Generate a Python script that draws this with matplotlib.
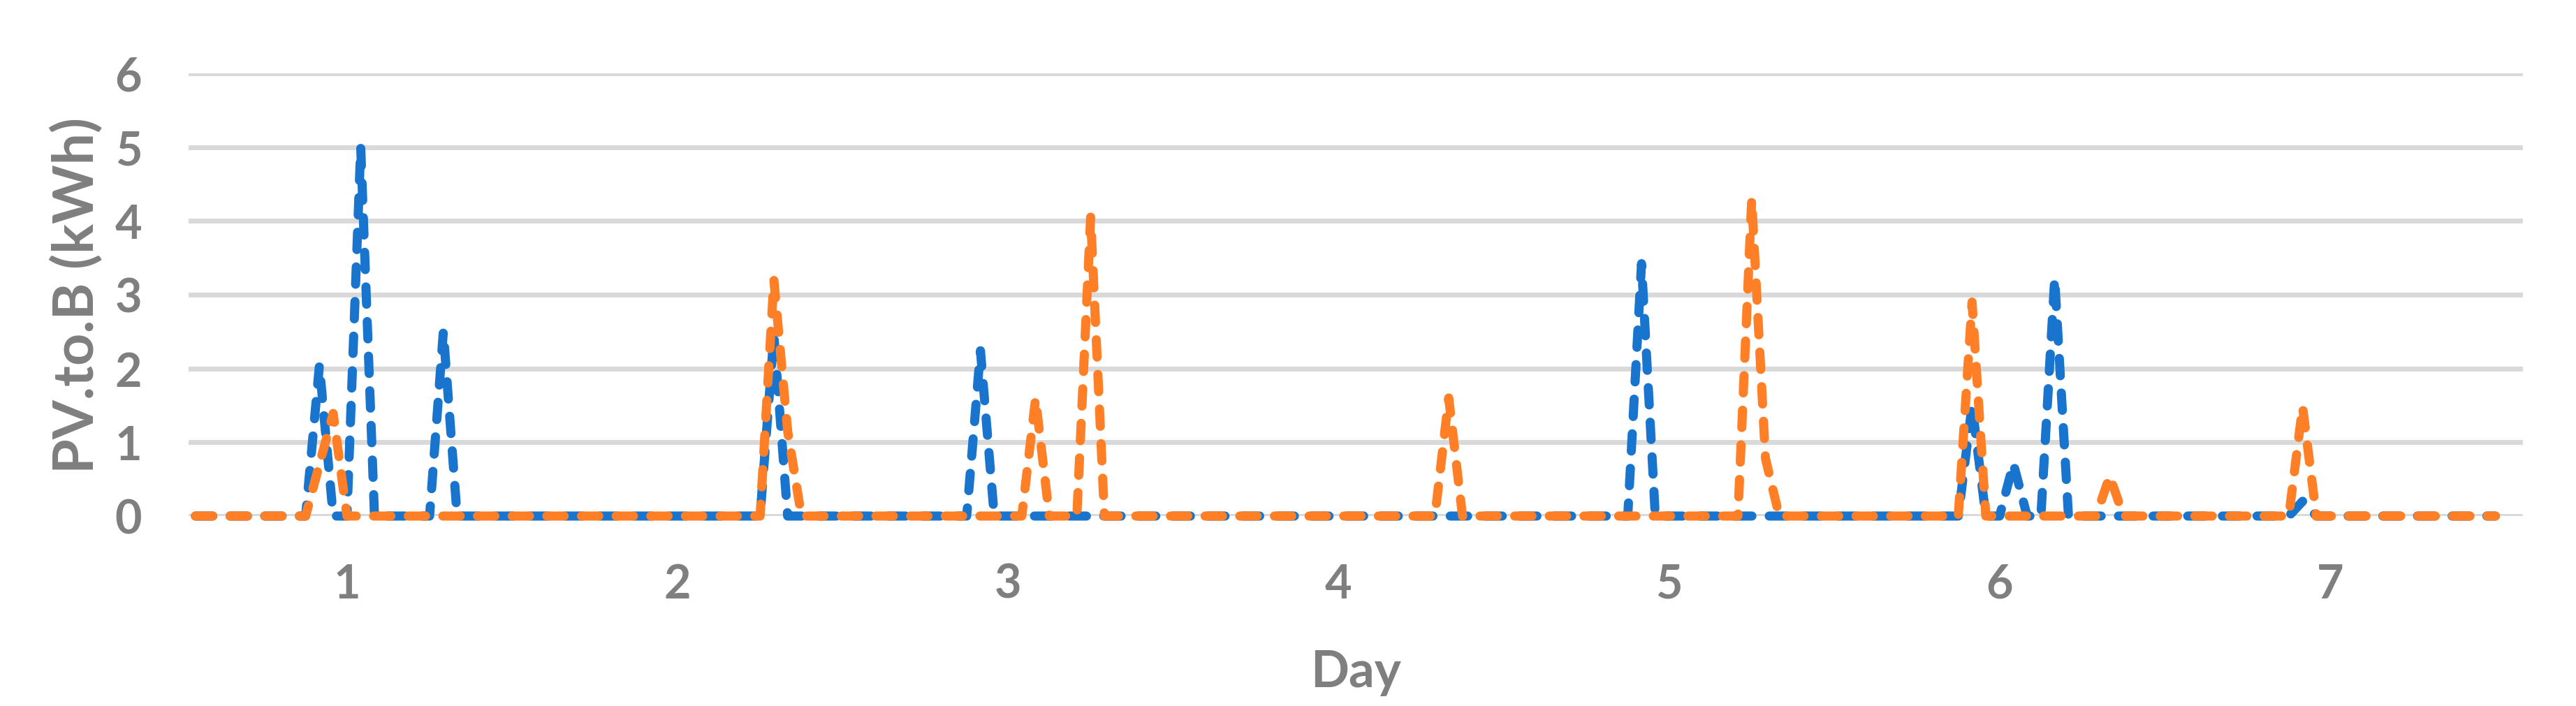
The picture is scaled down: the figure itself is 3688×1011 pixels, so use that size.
import numpy as np
import matplotlib
matplotlib.use('Agg')
import matplotlib.pyplot as plt

# hourly PV.to.B values (kWh), one list of 24 hours per day
blue_days = [
    [0, 0, 0, 0, 0, 0, 0, 0, 0, 2.04, 0, 0, 5.0, 0, 0, 0, 0, 0, 2.5, 0, 0, 0, 0, 0],
    [0, 0, 0, 0, 0, 0, 0, 0, 0, 0, 0, 0, 0, 0, 0, 0, 0, 0, 2.45, 0, 0, 0, 0, 0],
    [0, 0, 0, 0, 0, 0, 0, 0, 0, 2.24, 0, 0, 0, 0, 0, 0, 0, 0, 0, 0, 0, 0, 0, 0],
    [0, 0, 0, 0, 0, 0, 0, 0, 0, 0, 0, 0, 0, 0, 0, 0, 0, 0, 0, 0, 0, 0, 0, 0],
    [0, 0, 0, 0, 0, 0, 0, 0, 0, 3.42, 0, 0, 0, 0, 0, 0, 0, 0, 0, 0, 0, 0, 0, 0],
    [0, 0, 0, 0, 0, 0, 0, 0, 0, 1.5, 0, 0, 0.71, 0, 0, 3.22, 0, 0, 0, 0, 0, 0, 0, 0],
    [0, 0, 0, 0, 0, 0, 0, 0, 0, 0.2, 0, 0, 0, 0, 0, 0, 0, 0, 0, 0, 0, 0, 0, 0],
]
orange_days = [
    [0, 0, 0, 0, 0, 0, 0, 0, 0, 0.7, 1.39, 0, 0, 0, 0, 0, 0, 0, 0, 0, 0, 0, 0, 0],
    [0, 0, 0, 0, 0, 0, 0, 0, 0, 0, 0, 0, 0, 0, 0, 0, 0, 0, 3.2, 1.15, 0, 0, 0, 0],
    [0, 0, 0, 0, 0, 0, 0, 0, 0, 0, 0, 0, 0, 1.59, 0, 0, 0, 4.05, 0, 0, 0, 0, 0, 0],
    [0, 0, 0, 0, 0, 0, 0, 0, 0, 0, 0, 0, 0, 0, 0, 0, 0, 0, 0, 1.6, 0, 0, 0, 0],
    [0, 0, 0, 0, 0, 0, 0, 0, 0, 0, 0, 0, 0, 0, 0, 0, 0, 4.29, 0.78, 0, 0, 0, 0, 0],
    [0, 0, 0, 0, 0, 0, 0, 0, 0, 2.9, 0, 0, 0, 0, 0, 0, 0, 0, 0, 0.54, 0, 0, 0, 0],
    [0, 0, 0, 0, 0, 0, 0, 0, 0, 1.48, 0, 0, 0, 0, 0, 0, 0, 0, 0, 0, 0, 0, 0, 0],
]
day_labels = ['1', '2', '3', '4', '5', '6', '7']
label_hour = 11  # day label sits under hour 12 of each day

blue = np.concatenate(blue_days)
orange = np.concatenate(orange_days)
hours = np.arange(len(blue))

grey = '#7F7F7F'
plt.rcParams['font.family'] = ['Lato', 'DejaVu Sans']
plt.rcParams['font.weight'] = 'bold'

fig = plt.figure(figsize=(18.44, 5.06), dpi=200)
ax = fig.add_axes([0.0732, 0.2688, 0.9062, 0.6265])

for v in range(0, 7):
    ax.axhline(v, color='#D9D9D9', lw=2.5, zorder=1)

ls = (0, (1.9, 1.9))
ax.plot(hours, blue, color='#1874CD', lw=4.7, linestyle=ls,
        dash_capstyle='round', solid_joinstyle='round', clip_on=False, zorder=3)
ax.plot(hours, orange, color='#FF7F27', lw=4.7, linestyle=ls,
        dash_capstyle='round', solid_joinstyle='round', clip_on=False, zorder=4)

ax.set_xlim(-0.5, 169.0)
ax.set_ylim(0, 6)
ax.set_yticks(range(0, 7))
ax.set_xticks([label_hour + 24 * k for k in range(len(day_labels))])
ax.set_xticklabels(day_labels)
ax.tick_params(axis='both', length=0, labelsize=24, labelcolor=grey)
ax.tick_params(axis='y', pad=24)
ax.tick_params(axis='x', pad=24)
for s in ax.spines.values():
    s.set_visible(False)

ax.set_xlabel('Day', fontsize=26, color=grey, fontweight='bold', labelpad=22)
ax.set_ylabel('PV.to.B (kWh)', fontsize=29, color=grey, fontweight='bold', labelpad=6)

fig.savefig('out.png', dpi=200)
